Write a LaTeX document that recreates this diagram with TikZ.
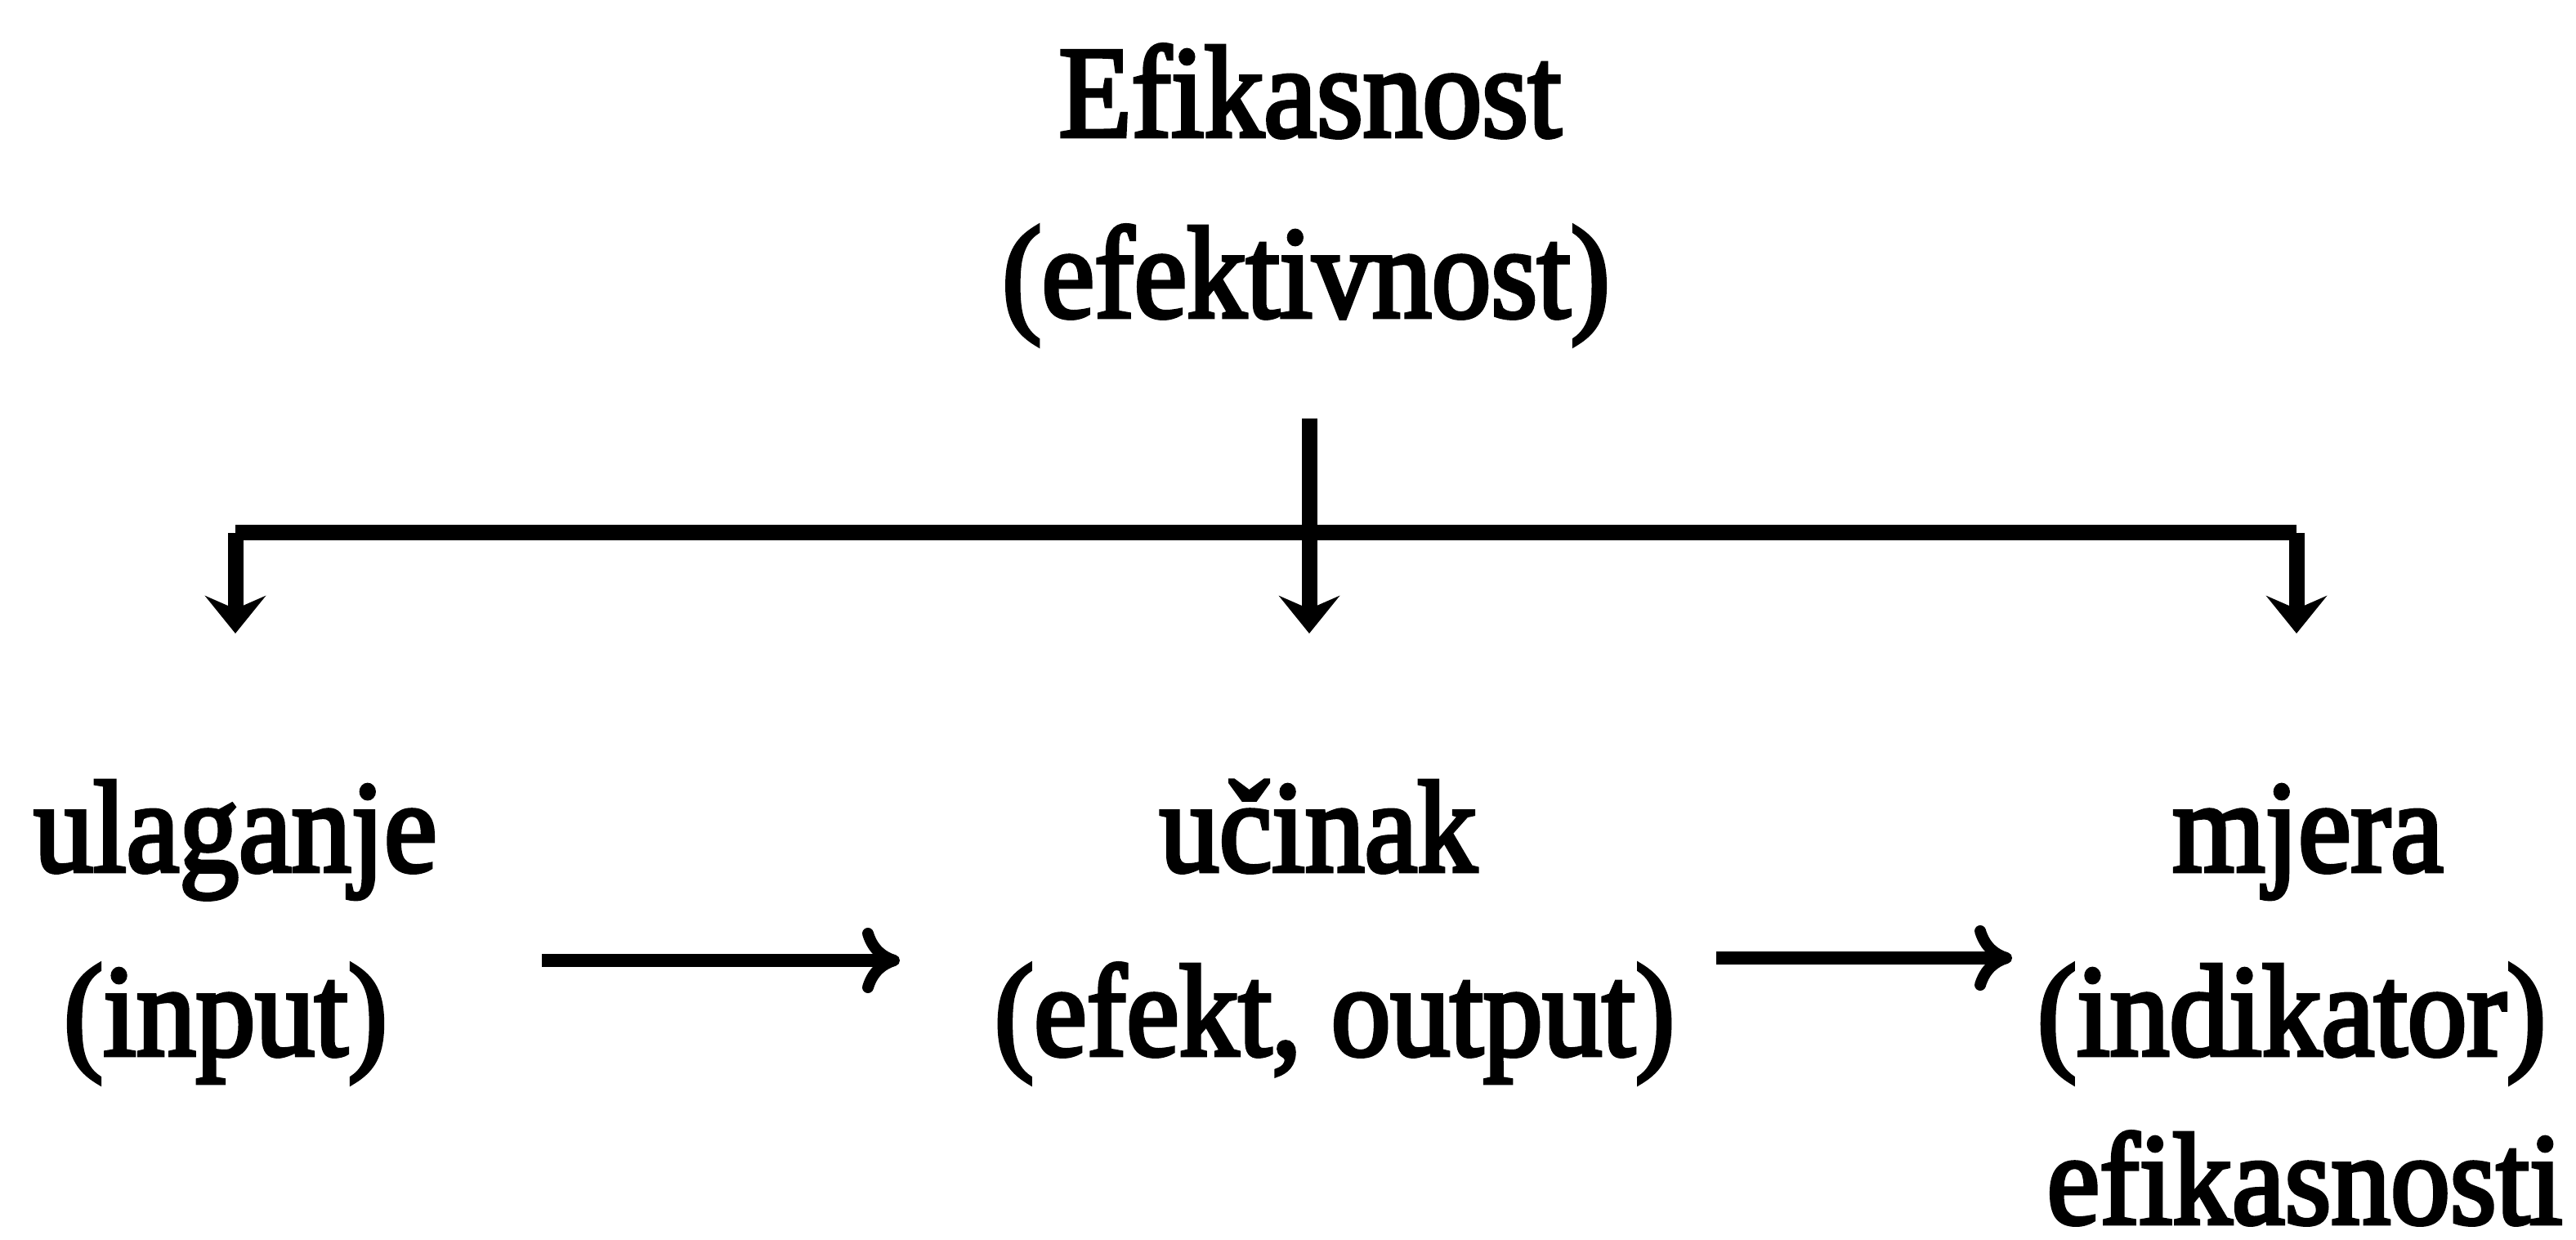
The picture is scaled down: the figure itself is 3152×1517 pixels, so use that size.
\documentclass[tikz,border=0pt]{standalone}
\usepackage{fontspec}
\newfontfamily\dfont{Liberation Serif}[FakeStretch=0.91,FakeBold=3]
\usetikzlibrary{arrows.meta}
\tikzset{
  lbl/.style={inner sep=0pt, anchor=base, font=\dfont\fontsize{16pt}{19pt}\selectfont},
  tree/.style={line width=1.9pt},
  down/.style={line width=1.9pt, -{Stealth[length=4.6pt, width=7.4pt, inset=1.6pt]}},
  flow/.style={line width=1.6pt, -{To[length=4.6pt, width=8pt, line width=1.4pt]}}
}
\begin{document}
\begin{tikzpicture}[x=0.1pt, y=-0.1pt]
\useasboundingbox (0,0) rectangle (3152,1517);
% top labels
\node[lbl] (ef) at (1603,167) {Efikasnost};
\node[lbl] (efk) at (1598,388) {(efektivnost)};
% tree
\coordinate (vtop) at (1602,512);
\coordinate (hub) at (1602,652);
\coordinate (lc) at (288,652);
\coordinate (rc) at (2810,652);
\coordinate (ltip) at (288,775);
\coordinate (mtip) at (1602,775);
\coordinate (rtip) at (2810,775);
\draw[tree] (lc) -- (rc);
\draw[down] (vtop) -- (mtip);
\draw[down] (lc) -- (ltip);
\draw[down] (rc) -- (rtip);
% bottom labels
\node[lbl] (ul) at (288,1066) {ulaganje};
\node[lbl] (inp) at (276,1291) {(input)};
\node[lbl] (uc) at (1613,1066) {učinak};
\node[lbl] (out) at (1633,1291) {(efekt, output)};
\node[lbl] (mj) at (2824,1066) {mjera};
\node[lbl] (ind) at (2804,1291) {(indikator)};
\node[lbl] (efs) at (2820,1497) {efikasnosti};
% flow arrows
\coordinate (a1s) at (663,1175);
\coordinate (a1e) at (1101,1175);
\coordinate (a2s) at (2100,1172);
\coordinate (a2e) at (2462,1172);
\draw[flow] (a1s) -- (a1e);
\draw[flow] (a2s) -- (a2e);
\end{tikzpicture}
\end{document}
